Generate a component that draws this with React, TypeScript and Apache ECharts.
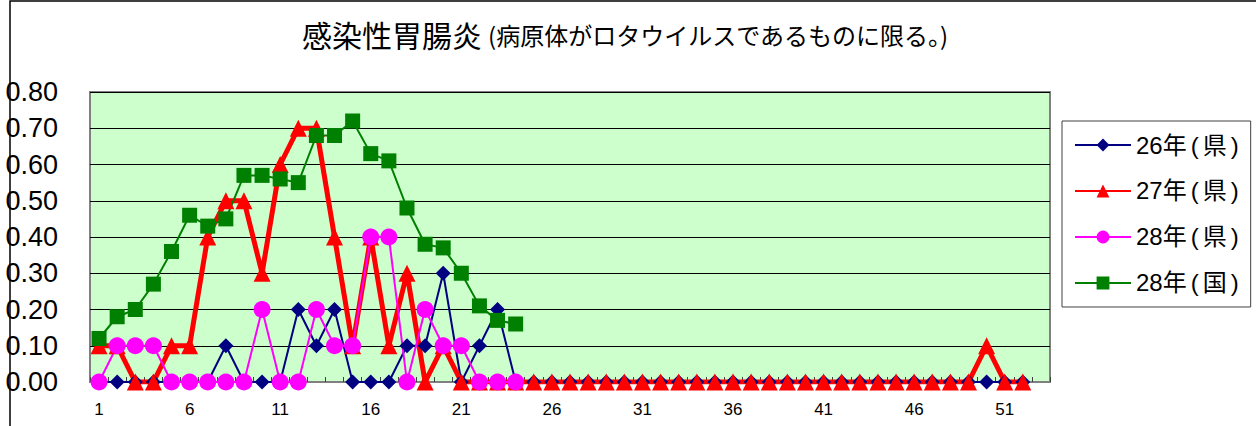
import React, { useEffect, useRef } from "react";
import * as echarts from "echarts";

const weeks: string[] = Array.from({ length: 53 }, (_, i) => String(i + 1));

const seriesNames = ["26年(県)", "27年(県)", "28年(県)", "28年(国)"];

const y26ken: number[] = [
  0, 0, 0, 0, 0, 0, 0, 0.1, 0, 0, 0, 0.2, 0.1, 0.2, 0, 0, 0, 0.1, 0.1, 0.3, 0, 0.1, 0.2, 0,
  0, 0, 0, 0, 0, 0, 0, 0, 0, 0, 0, 0, 0, 0, 0, 0, 0, 0, 0, 0, 0, 0, 0, 0, 0, 0, 0, 0,
];

const y27ken: number[] = [
  0.1, 0.1, 0, 0, 0.1, 0.1, 0.4, 0.5, 0.5, 0.3, 0.6, 0.7, 0.7, 0.4, 0.1, 0.4, 0.1, 0.3, 0, 0.1, 0, 0, 0, 0,
  0, 0, 0, 0, 0, 0, 0, 0, 0, 0, 0, 0, 0, 0, 0, 0, 0, 0, 0, 0, 0, 0, 0, 0, 0, 0.1, 0, 0,
];

const y28ken: number[] = [
  0, 0.1, 0.1, 0.1, 0, 0, 0, 0, 0, 0.2, 0, 0, 0.2, 0.1, 0.1, 0.4, 0.4, 0, 0.2, 0.1, 0.1, 0, 0, 0,
];

const y28kuni: number[] = [
  0.12, 0.18, 0.2, 0.27, 0.36, 0.46, 0.43, 0.45, 0.57, 0.57, 0.56, 0.55, 0.68, 0.68, 0.72, 0.63,
  0.61, 0.48, 0.38, 0.37, 0.3, 0.21, 0.17, 0.16,
];

const FONT = "'Liberation Sans', 'Noto Sans CJK JP', sans-serif";
const CJK = "'Noto Sans CJK JP', sans-serif";

export default function App() {
  const ref = useRef<HTMLDivElement>(null);
  useEffect(() => {
    if (!ref.current) return;
    const chart = echarts.init(ref.current, undefined, { renderer: "svg" });
    chart.setOption({
      animation: false,
      backgroundColor: "#ffffff",
      textStyle: { fontFamily: FONT },
      title: {
        left: "center",
        top: 14,
        text: "{a|感染性胃腸炎}{b|(病原体がロタウイルスであるものに限る。)}",
        textStyle: {
          fontFamily: CJK,
          fontWeight: "normal",
          rich: {
            a: { fontSize: 30, color: "#000", fontFamily: CJK, fontWeight: "normal" },
            b: { fontSize: 24, color: "#000", fontFamily: CJK, fontWeight: "normal" },
          },
        },
      },
      graphic: [
        {
          type: "rect",
          shape: { x: 10, y: 1, width: 1400, height: 600 },
          style: { fill: "none", stroke: "#000", lineWidth: 1.5 },
          z: 100,
        },
      ],
      legend: {
        orient: "vertical",
        left: 1062,
        top: 121,
        padding: [12, 12, 12, 12],
        itemGap: 22,
        itemWidth: 56,
        itemHeight: 16,
        borderColor: "#404040",
        borderWidth: 1,
        formatter: (name: string) => {
          const m = name.match(/^(.*)\((.*)\)$/);
          if (!m) return name;
          return `{n|${m[1]}}{p|(}{n|${m[2]}}{p|)}`;
        },
        textStyle: {
          fontSize: 24,
          color: "#000",
          fontFamily: FONT,
          rich: {
            n: { fontSize: 24, color: "#000", fontFamily: FONT },
            p: { fontSize: 24, color: "#000", fontFamily: FONT, padding: [0, 4, 0, 4] },
          },
        },
        data: seriesNames,
      },
      grid: {
        left: 90,
        right: 206,
        top: 92,
        bottom: 44,
        show: true,
        backgroundColor: "#CCFFCC",
        borderColor: "#808080",
        borderWidth: 2,
      },
      xAxis: {
        type: "category",
        data: weeks,
        boundaryGap: true,
        axisLine: { lineStyle: { color: "#808080", width: 2 } },
        axisTick: {
          show: true,
          inside: true,
          interval: 0,
          length: 5,
          lineStyle: { color: "#404040", width: 1 },
        },
        axisLabel: {
          interval: 4,
          fontSize: 17,
          color: "#000",
          margin: 19,
          fontFamily: FONT,
        },
      },
      yAxis: {
        type: "value",
        min: 0,
        max: 0.8,
        interval: 0.1,
        axisLine: { show: false },
        axisTick: { show: false },
        splitLine: { lineStyle: { color: "#000", width: 1 } },
        axisLabel: {
          fontSize: 27,
          color: "#000",
          margin: 32,
          fontFamily: FONT,
          formatter: (v: number) => v.toFixed(2),
        },
      },
      series: [
        {
          name: seriesNames[0],
          type: "line",
          data: y26ken,
          symbol: "diamond",
          symbolSize: 15,
          showAllSymbol: true,
          lineStyle: { color: "#000080", width: 2 },
          itemStyle: { color: "#000080" },
        },
        {
          name: seriesNames[1],
          type: "line",
          data: y27ken,
          symbol: "triangle",
          symbolSize: 17,
          showAllSymbol: true,
          lineStyle: { color: "#FF0000", width: 5 },
          itemStyle: { color: "#FF0000" },
        },
        {
          name: seriesNames[2],
          type: "line",
          data: y28ken,
          symbol: "circle",
          symbolSize: 17,
          showAllSymbol: true,
          lineStyle: { color: "#FF00FF", width: 2 },
          itemStyle: { color: "#FF00FF" },
        },
        {
          name: seriesNames[3],
          type: "line",
          data: y28kuni,
          symbol: "rect",
          symbolSize: 15,
          showAllSymbol: true,
          lineStyle: { color: "#008000", width: 2 },
          itemStyle: { color: "#008000" },
        },
      ],
    });
    return () => chart.dispose();
  }, []);
  return (
    <div
      ref={ref}
      style={{ position: "fixed", left: 0, top: 0, width: 1256, height: 426 }}
    />
  );
}
